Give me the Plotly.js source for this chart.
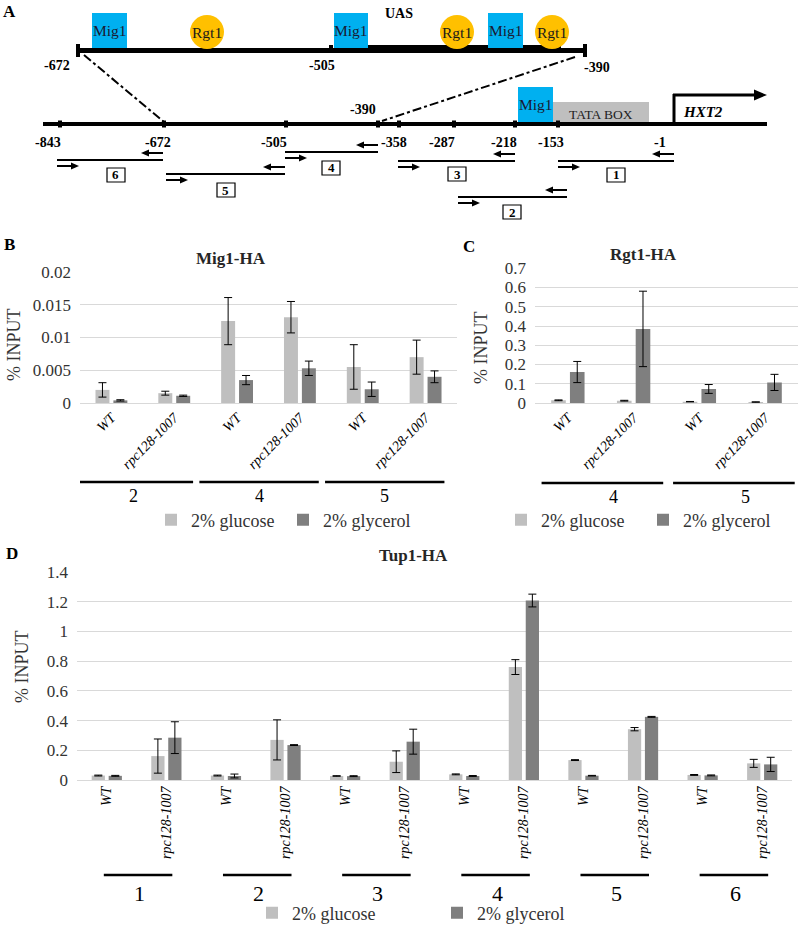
<!DOCTYPE html>
<html><head><meta charset="utf-8">
<script src="https://cdn.plot.ly/plotly-3.0.1.min.js"></script>
<style>html,body{margin:0;padding:0;background:#fff}</style>
</head><body>
<div id="chart" style="width:800px;height:933px"></div>
<script>
// ---------------- data ----------------
const strains = ['WT', 'rpc128-1007'];
const conditions = ['2% glucose', '2% glycerol'];

const mig1Regions = ['2', '4', '5'];
const mig1Glucose     = [0.0020, 0.0015, 0.0125, 0.0131, 0.0055, 0.0070];
const mig1GlucoseErr  = [0.0011, 0.0003, 0.0036, 0.0024, 0.0034, 0.0026];
const mig1Glycerol    = [0.0004, 0.0011, 0.0035, 0.0053, 0.0021, 0.0040];
const mig1GlycerolErr = [0.0001, 0.0001, 0.0007, 0.0011, 0.0011, 0.0009];

const rgt1Regions = ['4', '5'];
const rgt1Glucose     = [0.014, 0.012, 0.007, 0.005];
const rgt1GlucoseErr  = [0.002, 0.002, 0.001, 0.001];
const rgt1Glycerol    = [0.161, 0.385, 0.073, 0.107];
const rgt1GlycerolErr = [0.055, 0.196, 0.023, 0.042];

const tup1Regions = ['1', '2', '3', '4', '5', '6'];
const tup1Glucose     = [0.030, 0.161, 0.030, 0.270, 0.027, 0.123, 0.038, 0.760, 0.134, 0.342, 0.034, 0.112];
const tup1GlucoseErr  = [0.003, 0.115, 0.003, 0.135, 0.002, 0.073, 0.003, 0.050, 0.003, 0.011, 0.003, 0.027];
const tup1Glycerol    = [0.028, 0.285, 0.027, 0.235, 0.026, 0.258, 0.027, 1.208, 0.029, 0.425, 0.031, 0.105];
const tup1GlycerolErr = [0.003, 0.107, 0.013, 0.003, 0.003, 0.084, 0.003, 0.043, 0.002, 0.003, 0.003, 0.048];

const promoterTicks = ['-843', '-672', '-505', '-390', '-358', '-287', '-218', '-153', '-1'];
const uasTicks = ['-672', '-505', '-390'];
const fragments = ['1', '2', '3', '4', '5', '6'];
const siteNames = ['Mig1', 'Rgt1', 'TATA BOX', 'UAS', 'HXT2'];

// ---------------- style ----------------
const FONT = 'Liberation Serif';
const C_GLU = '#bfbfbf', C_GLY = '#7f7f7f', GRID = '#d9d9d9', TXT = '#333333';
const W = 800, H = 933;
const X = px => px / W;
const Y = py => 1 - py / H;

const traces = [];
const shapes = [];
const annotations = [];

function idx(n) { return Array.from({length: n}, (_, i) => i); }
function tickLabels(nRegions) {
  const t = [];
  for (let r = 0; r < nRegions; r++) strains.forEach(s => t.push('<i>' + s + '</i>'));
  return t;
}
function addPanel(xa, ya, legendId, glu, gluErr, gly, glyErr) {
  const xs = idx(glu.length);
  traces.push({type: 'bar', x: xs, y: glu, name: conditions[0], marker: {color: C_GLU},
    error_y: {type: 'data', array: gluErr, visible: true, color: '#000', thickness: 1, width: 4},
    xaxis: xa, yaxis: ya, legend: legendId, hoverinfo: 'y'});
  traces.push({type: 'bar', x: xs, y: gly, name: conditions[1], marker: {color: C_GLY},
    error_y: {type: 'data', array: glyErr, visible: true, color: '#000', thickness: 1, width: 4},
    xaxis: xa, yaxis: ya, legend: legendId, hoverinfo: 'y'});
}
addPanel('x', 'y', 'legend', mig1Glucose, mig1GlucoseErr, mig1Glycerol, mig1GlycerolErr);
addPanel('x2', 'y2', 'legend2', rgt1Glucose, rgt1GlucoseErr, rgt1Glycerol, rgt1GlycerolErr);
addPanel('x3', 'y3', 'legend3', tup1Glucose, tup1GlucoseErr, tup1Glycerol, tup1GlycerolErr);

// region group lines + labels
function groupMarks(xref, regions, lineY, labelY, lo, hi, lab, size) {
  regions.forEach((r, g) => {
    shapes.push({type: 'line', xref: xref, yref: 'paper', x0: 2 * g + lo, x1: 2 * g + hi,
      y0: Y(lineY), y1: Y(lineY), line: {color: '#000', width: 2.5}});
    annotations.push({xref: xref, yref: 'paper', x: 2 * g + lab, y: Y(labelY), text: r,
      showarrow: false, xanchor: 'center', yanchor: 'middle', font: {family: FONT, size: size, color: '#000'}});
  });
}
groupMarks('x', mig1Regions, 482, 496, -0.6, 1.3, 0.35, 18);
groupMarks('x2', rgt1Regions, 483, 497, -0.4, 1.45, 0.7, 18);
groupMarks('x3', tup1Regions, 875, 893, -0.05, 1.1, 0.55, 22);

// ---------------- panel titles / labels ----------------
function txt(px, py, text, size, opts) {
  annotations.push(Object.assign({xref: 'paper', yref: 'paper', x: X(px), y: Y(py), text: text,
    showarrow: false, xanchor: 'center', yanchor: 'middle',
    font: {family: FONT, size: size, color: '#000'}}, opts || {}));
}
txt(9, 11, '<b>A</b>', 17);
txt(9, 245, '<b>B</b>', 17);
txt(469, 247, '<b>C</b>', 17);
txt(12, 553, '<b>D</b>', 17);
txt(231, 258, '<b>Mig1-HA</b>', 17, {font: {family: FONT, size: 17, color: '#262626'}});
txt(643, 255, '<b>Rgt1-HA</b>', 17, {font: {family: FONT, size: 17, color: '#262626'}});
txt(414, 555, '<b>Tup1-HA</b>', 17, {font: {family: FONT, size: 17, color: '#262626'}});
txt(14, 345, '% INPUT', 18, {textangle: -90, font: {family: FONT, size: 18, color: TXT}});
txt(481, 347, '% INPUT', 18, {textangle: -90, font: {family: FONT, size: 18, color: TXT}});
txt(22, 667, '% INPUT', 18, {textangle: -90, font: {family: FONT, size: 18, color: TXT}});

// ---------------- panel A diagram ----------------
function rect(x0, y0, x1, y1, fill, lineW, lineC) {
  shapes.push({type: 'rect', xref: 'paper', yref: 'paper', x0: X(x0), x1: X(x1), y0: Y(y1), y1: Y(y0),
    fillcolor: fill, line: {width: lineW || 0, color: lineC || fill}});
}
function seg(x0, y0, x1, y1, w, dash) {
  shapes.push({type: 'line', xref: 'paper', yref: 'paper', x0: X(x0), x1: X(x1), y0: Y(y0), y1: Y(y1),
    line: {color: '#000', width: w, dash: dash || 'solid'}});
}
function tri(xt, y, dir, len, half) {
  const xb = xt - dir * len;
  shapes.push({type: 'path', xref: 'paper', yref: 'paper',
    path: `M${X(xt)},${Y(y)} L${X(xb)},${Y(y - half)} L${X(xb)},${Y(y + half)} Z`,
    fillcolor: '#000', line: {width: 0}});
}
function arrow(xs, xe, y) {
  const dir = xe > xs ? 1 : -1;
  seg(xs, y, xe - dir * 6, y, 2);
  tri(xe, y, dir, 8, 3.5);
}
function circle(cx, cy, r, fill) {
  shapes.push({type: 'circle', xref: 'paper', yref: 'paper', x0: X(cx - r), x1: X(cx + r),
    y0: Y(cy + r), y1: Y(cy - r), fillcolor: fill, line: {width: 0}});
}
const MIG = '#00b0f0', RGT = '#ffc000';

// UAS line
rect(77, 48, 586, 53, '#000');
rect(367, 45, 561, 53, '#000');
rect(76, 44, 80, 57, '#000');
rect(583, 44, 587, 57, '#000');
rect(329, 45, 333, 50, '#000');
txt(399, 13, '<b>' + siteNames[3] + '</b>', 14);
txt(57, 65, '<b>' + uasTicks[0] + '</b>', 14);
txt(322, 65, '<b>' + uasTicks[1] + '</b>', 14);
txt(597, 67, '<b>' + uasTicks[2] + '</b>', 14);
[[92, 127], [334, 368], [488, 523]].forEach(b => {
  rect(b[0], 13, b[1], 48, MIG);
  txt((b[0] + b[1]) / 2, 31, siteNames[0], 15.5, {font: {family: FONT, size: 15.5, color: '#1a1a33'}});
});
[207, 457, 552].forEach(cx => {
  circle(cx, 32, 17, RGT);
  txt(cx, 32, siteNames[1], 15.5, {font: {family: FONT, size: 15.5, color: '#1a1a1a'}});
});
// dash-dot zoom lines
seg(84, 55, 164, 122, 2, 'dashdot');
seg(575, 57, 382, 121, 2, 'dashdot');

// promoter line
rect(518, 87, 553, 122, MIG);
txt(535.5, 104, siteNames[0], 15.5, {font: {family: FONT, size: 15.5, color: '#1a1a33'}});
rect(553, 102, 649, 122, '#bfbfbf');
txt(601, 114, siteNames[2], 13.5, {font: {family: FONT, size: 13.5, color: '#222'}});
rect(43, 122, 767, 126, '#000');
const tickPx = [60, 164, 286, 378, 399, 454, 515, 558];
tickPx.forEach(x => rect(x - 2, 120.5, x + 2, 127.5, '#000'));
const tickLabPx = [[48, 143], [158, 143], [274, 143], [363, 110], [394, 143], [442, 143], [504, 143], [551, 143], [660, 143]];
promoterTicks.forEach((t, i) => txt(tickLabPx[i][0], tickLabPx[i][1], '<b>' + t + '</b>', 14));
// HXT2 arrow
seg(674, 124, 674, 94, 3);
seg(673, 95, 756, 95, 3);
tri(767, 95, 1, 13, 5.5);
txt(703, 112, '<b><i>' + siteNames[4] + '</i></b>', 15);

// PCR fragments: [lineStart, lineEnd, lineY, boxCx, boxCy]
const fragGeom = {
  '1': [558, 674, 161, 616, 175],
  '2': [458, 567, 197, 512, 212],
  '3': [398, 515, 161, 457, 174],
  '4': [285, 378, 152, 331, 168],
  '5': [166, 285, 174, 226, 190],
  '6': [57, 163, 160, 116, 175]
};
fragments.forEach(f => {
  const g = fragGeom[f];
  seg(g[0], g[2], g[1], g[2], 2);
  arrow(g[1], g[1] - 22, g[2] - 7);
  arrow(g[0], g[0] + 22, g[2] + 6);
  rect(g[3] - 9, g[4] - 7, g[3] + 9, g[4] + 7, '#fff', 1.2, '#000');
  txt(g[3], g[4], '<b>' + f + '</b>', 13);
});

// ---------------- axes ----------------
function yax(domain, range, dtick) {
  return {domain: domain, range: range, dtick: dtick, showgrid: true, gridcolor: GRID, gridwidth: 1,
    zeroline: true, zerolinecolor: GRID, zerolinewidth: 1, showline: false, ticks: '',
    ticklabelstandoff: 8, tickfont: {family: FONT, size: 17, color: TXT}, fixedrange: true};
}
function xax(domain, n, nRegions, angle, anchor) {
  return {domain: domain, range: [-0.5, n - 0.5], tickmode: 'array', tickvals: idx(n),
    ticktext: tickLabels(nRegions), tickangle: angle, showgrid: false, zeroline: false,
    showline: true, linecolor: GRID, linewidth: 1, ticks: '', anchor: anchor,
    tickfont: {family: FONT, size: 14, color: '#000'}, fixedrange: true};
}
function leg(x, y) {
  return {orientation: 'h', x: X(x), y: Y(y), xanchor: 'left', yanchor: 'middle',
    bgcolor: 'rgba(0,0,0,0)', font: {family: FONT, size: 18, color: TXT}, itemclick: false, itemdoubleclick: false};
}

const layout = {
  width: W, height: H, margin: {l: 0, r: 0, t: 0, b: 0},
  paper_bgcolor: '#fff', plot_bgcolor: 'rgba(0,0,0,0)',
  barmode: 'group', bargap: 0.43, bargroupgap: 0.22,
  showlegend: true,
  xaxis: xax([X(80), X(457)], 6, 3, -45, 'y'),
  yaxis: yax([Y(403), Y(272)], [0, 0.02], 0.005),
  xaxis2: xax([X(535), X(798)], 4, 2, -45, 'y2'),
  yaxis2: Object.assign(yax([Y(403), Y(268.3)], [0, 0.7], 0.1), {anchor: 'x2'}),
  xaxis3: xax([X(77), X(792)], 12, 6, -90, 'y3'),
  yaxis3: Object.assign(yax([Y(780), Y(572)], [0, 1.4], 0.2), {anchor: 'x3'}),
  legend: Object.assign(leg(151, 520), {entrywidth: 87}),
  legend2: Object.assign(leg(501, 520), {entrywidth: 97}),
  legend3: Object.assign(leg(252, 913), {entrywidth: 140}),
  shapes: shapes,
  annotations: annotations
};
layout.yaxis.anchor = 'x';

Plotly.newPlot('chart', traces, layout, {displayModeBar: false, staticPlot: true});
</script>
</body></html>
